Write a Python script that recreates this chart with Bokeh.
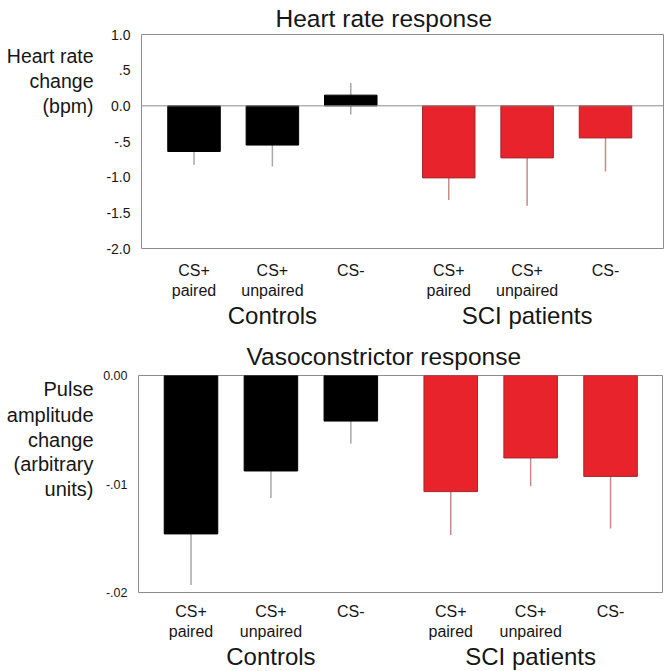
from bokeh.plotting import figure
from bokeh.models import Range1d, LinearAxis, FixedTicker, Span
from bokeh.layouts import column, row
from bokeh.core.properties import value
from bokeh.embed import file_html
from bokeh.resources import INLINE

FONT = "Liberation Sans"

# ---------------- data ----------------
conditions = ["CS+\npaired", "CS+\nunpaired", "CS-"]
groups = ["Controls", "SCI patients"]

hr_title = "Heart rate response"
hr_ylabel = ["Heart rate", "change", "(bpm)"]
hr_controls = [-0.64, -0.55, 0.15]
hr_sci = [-1.01, -0.73, -0.45]
hr_controls_lo = [-0.83, -0.85, -0.12]
hr_controls_hi = [-0.64, -0.55, 0.32]
hr_sci_lo = [-1.32, -1.40, -0.92]
hr_sci_hi = [-1.01, -0.73, -0.45]
hr_ticks = [1.0, 0.5, 0.0, -0.5, -1.0, -1.5, -2.0]
hr_tick_labels = ["1.0", ".5", "0.0", "-.5", "-1.0", "-1.5", "-2.0"]

vaso_title = "Vasoconstrictor response"
vaso_ylabel = ["Pulse", "amplitude", "change", "(arbitrary", "units)"]
vaso_controls = [-0.0146, -0.0088, -0.0042]
vaso_sci = [-0.0107, -0.0076, -0.0093]
vaso_controls_lo = [-0.0193, -0.0113, -0.0063]
vaso_controls_hi = [-0.0146, -0.0088, -0.0042]
vaso_sci_lo = [-0.0147, -0.0102, -0.0141]
vaso_sci_hi = [-0.0107, -0.0076, -0.0093]
vaso_ticks = [0.0, -0.01, -0.02]
vaso_tick_labels = ["0.00", "-.01", "-.02"]

# ---------------- style ----------------
GAP = 0.25
BAR_W = 0.67
CTRL_COLOR = "#000000"
SCI_COLOR = "#e8232b"
CTRL_ERR = "#a8a8a8"
SCI_ERR = "#c98a8a"
FRAME_COLOR = "#8c8c8c"
TEXT_COLOR = "#161616"
LABEL_W = 95


def positions(g):
    return [g * (len(conditions) + GAP) + i for i in range(len(conditions))]


def label_fig(lines, line_ys, right_x, geom, size):
    # frame of this figure is aligned with the neighbouring plot's frame;
    # its ranges are set so that data units equal canvas pixels.
    fl, fw, ft, fh, fb, xs, xe = geom
    f = figure(width=LABEL_W, height=ft + fh + fb, output_backend="svg",
               toolbar_location=None, x_range=Range1d(0, LABEL_W),
               y_range=Range1d(ft + fh, ft), x_axis_location=None,
               y_axis_location=None, min_border=0)
    f.min_border_left = f.min_border_right = 0
    f.min_border_top = ft
    f.min_border_bottom = fb
    f.frame_height = fh
    f.grid.visible = False
    f.outline_line_color = None
    f.text(x=[right_x] * len(lines), y=line_ys, text=lines,
           text_font=value(FONT), text_font_size=size, text_align="right",
           text_baseline="middle", text_color=TEXT_COLOR)
    return f


def make_panel(title, title_offset, title_standoff, ctrl, sci, ctrl_lo, ctrl_hi,
               sci_lo, sci_hi, ticks, tick_labels, y_lo, y_hi, geom, tick_font,
               sub_standoff, zero_line):
    fl, fw, ft, fh, fb, xs, xe = geom
    p = figure(frame_width=fw, frame_height=fh, output_backend="svg",
               toolbar_location=None,
               x_range=Range1d(xs, xe), y_range=Range1d(y_lo, y_hi),
               min_border_left=fl - LABEL_W, min_border_right=2,
               min_border_top=ft, min_border_bottom=fb,
               x_axis_location=None, y_axis_location=None)
    p.grid.visible = False
    p.outline_line_color = FRAME_COLOR
    p.outline_line_width = 1

    p.title.text = title
    p.title.align = "left"
    p.title.offset = title_offset
    p.title.standoff = title_standoff
    p.title.text_font = FONT
    p.title.text_font_size = "24.5px"
    p.title.text_font_style = "normal"
    p.title.text_color = TEXT_COLOR

    yax = LinearAxis(ticker=FixedTicker(ticks=ticks),
                     major_label_overrides={t: l for t, l in zip(ticks, tick_labels)})
    yax.axis_line_color = None
    yax.major_tick_line_color = None
    yax.minor_tick_line_color = None
    yax.major_tick_out = 0
    yax.major_tick_in = 0
    yax.major_label_standoff = 11
    yax.major_label_text_font = FONT
    yax.major_label_text_font_size = tick_font
    yax.major_label_text_color = TEXT_COLOR
    p.add_layout(yax, "left")

    allpos = positions(0) + positions(1)
    xax = LinearAxis(ticker=FixedTicker(ticks=allpos),
                     major_label_overrides={t: l for t, l in zip(allpos, conditions * 2)})
    xax.axis_line_color = None
    xax.major_tick_line_color = None
    xax.minor_tick_line_color = None
    xax.major_tick_out = 0
    xax.major_tick_in = 0
    xax.major_label_standoff = sub_standoff
    xax.major_label_text_font = FONT
    xax.major_label_text_font_size = "16px"
    xax.major_label_text_line_height = 1.2
    xax.major_label_text_color = TEXT_COLOR
    p.add_layout(xax, "below")

    gpos = [positions(g)[1] for g in range(len(groups))]
    gax = LinearAxis(ticker=FixedTicker(ticks=gpos),
                     major_label_overrides={t: l for t, l in zip(gpos, groups)})
    gax.axis_line_color = None
    gax.major_tick_line_color = None
    gax.minor_tick_line_color = None
    gax.major_tick_out = 0
    gax.major_tick_in = 0
    gax.major_label_standoff = 0
    gax.major_label_text_font = FONT
    gax.major_label_text_font_size = "24px"
    gax.major_label_text_color = TEXT_COLOR
    p.add_layout(gax, "below")

    if zero_line:
        p.add_layout(Span(location=0, dimension="width", line_color=FRAME_COLOR,
                          line_width=1))

    p.segment(x0=positions(0), x1=positions(0), y0=ctrl_lo, y1=ctrl_hi,
              line_color=CTRL_ERR, line_width=1.5)
    p.segment(x0=positions(1), x1=positions(1), y0=sci_lo, y1=sci_hi,
              line_color=SCI_ERR, line_width=1.5)
    p.vbar(x=positions(0), top=ctrl, bottom=0, width=BAR_W,
           fill_color=CTRL_COLOR, line_color=CTRL_COLOR, line_width=1)
    p.vbar(x=positions(1), top=sci, bottom=0, width=BAR_W,
           fill_color=SCI_COLOR, line_color="#a3282b", line_width=1)
    return p


geom1 = (141, 522, 34, 214, 80, -0.67, 5.99)
geom2 = (138, 524, 44, 217, 74, -0.657, 5.90)

p1 = make_panel(hr_title, 134, 5, hr_controls, hr_sci,
                hr_controls_lo, hr_controls_hi, hr_sci_lo, hr_sci_hi,
                hr_ticks, hr_tick_labels, -2.0, 1.0, geom1, "14px", 13, True)
p2 = make_panel(vaso_title, 108, 12, vaso_controls, vaso_sci,
                vaso_controls_lo, vaso_controls_hi, vaso_sci_lo, vaso_sci_hi,
                vaso_ticks, vaso_tick_labels, -0.02, 0.0, geom2, "12.5px", 10, False)

l1 = label_fig(hr_ylabel, [55, 80, 105], 93, geom1, "19.5px")
l2 = label_fig(vaso_ylabel, [57, 83, 108, 132, 157], 93, geom2, "20px")

layout = column(row(l1, p1, spacing=0), row(l2, p2, spacing=0), spacing=0)
open("out.html", "w").write(file_html(layout, INLINE))
